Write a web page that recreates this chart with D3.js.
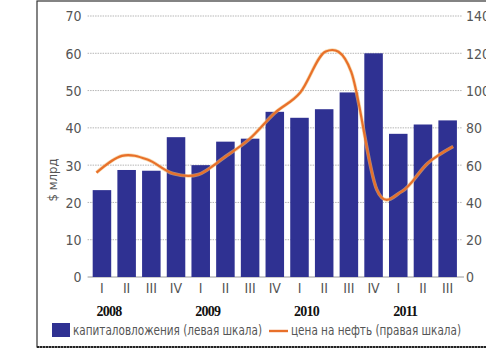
<!DOCTYPE html>
<html><head><meta charset="utf-8">
<script src="https://cdn.jsdelivr.net/npm/d3@7"></script>
<style>
html,body{margin:0;padding:0;background:#fff;overflow:hidden}
svg{display:block}
.tk{font-family:"Liberation Sans Narrow","DejaVu Sans Condensed","Liberation Sans",sans-serif;fill:#555}
</style></head><body>
<svg id="c" width="486" height="359"></svg>
<script>
const quarters = ["I","II","III","IV","I","II","III","IV","I","II","III","IV","I","II","III"];
const years = ["2008","2009","2010","2011"];
const yearStart = [0,4,8,12];
const capex = [23.3,28.7,28.5,37.5,30,36.3,37.1,44.3,42.7,45,49.5,60,38.4,40.9,42];
const oil = [56,65,63,55.5,55,64,74,88,99,121,110,47,46,61,70];
const leftTicks = [0,10,20,30,40,50,60,70];
const rightTicks = [0,20,40,60,80,100,120,140];
const legendLabels = ["капиталовложения (левая шкала)","цена на нефть (правая шкала)"];
const yTitle = "$ млрд";

const svg = d3.select("#c");
const W=486,H=359;
const x0=89.6,x1=460, yTop=16, yBot=277;
const idx = d3.range(quarters.length);
const x = d3.scaleBand().domain(idx).range([x0,x1]).paddingInner(0.25).paddingOuter(0.125);
const xl = d3.scalePoint().domain(idx).range([x0,x1]).padding(0.27);
const yL = d3.scaleLinear().domain([0,70]).range([yBot,yTop]);
const yR = d3.scaleLinear().domain([0,140]).range([yBot,yTop]);

// frame
svg.append("rect").attr("x",37).attr("y",1).attr("width",W).attr("height",346)
  .attr("fill","none").attr("stroke","#333").attr("stroke-width",1.2);
svg.append("line").attr("x1",37).attr("x2",W).attr("y1",347).attr("y2",347)
  .attr("stroke","#222").attr("stroke-width",2).attr("stroke-dasharray","2,1");

// gridlines
svg.append("g").selectAll("line").data(leftTicks.slice(1)).join("line")
  .attr("x1",x0-2).attr("x2",x1+2).attr("y1",d=>yL(d)).attr("y2",d=>yL(d))
  .attr("stroke","#b5b5b5").attr("stroke-width",1).attr("stroke-dasharray","1.5,1");
svg.append("line").attr("x1",x0-2).attr("x2",x1+4).attr("y1",yBot).attr("y2",yBot)
  .attr("stroke","#9a9a9a").attr("stroke-width",1);

// left axis
const gl = svg.append("g").attr("transform",`translate(${x0-8},0)`)
  .call(d3.axisLeft(yL).tickValues(leftTicks).tickSize(0).tickPadding(0));
gl.select(".domain").remove();
gl.selectAll("text").attr("class","tk").attr("font-size",14).attr("dy","0.35em");
// right axis
const gr = svg.append("g").attr("transform",`translate(${x1+6},0)`)
  .call(d3.axisRight(yR).tickValues(rightTicks).tickSize(0).tickPadding(0));
gr.select(".domain").remove();
gr.selectAll("text").attr("class","tk").attr("font-size",14).attr("dy","0.35em");

// bars
svg.append("g").selectAll("rect").data(capex).join("rect")
  .attr("x",(d,i)=>x(i)).attr("width",x.bandwidth())
  .attr("y",d=>yL(d)).attr("height",d=>yBot-yL(d))
  .attr("fill","#2f3192");

// line
const line = d3.line().x((d,i)=>xl(i)).y(d=>yR(d)).curve(d3.curveCatmullRom.alpha(0));
svg.append("path").datum(oil).attr("d",line).attr("fill","none")
  .attr("stroke","#f4c27a").attr("stroke-width",3.6).attr("opacity",0.6);
svg.append("path").datum(oil).attr("d",line).attr("fill","none")
  .attr("stroke","#e8702a").attr("stroke-width",2.2);

// x axis labels
svg.append("g").selectAll("text").data(quarters).join("text").attr("class","tk")
  .attr("x",(d,i)=>x(i)+x.bandwidth()/2).attr("y",293).attr("text-anchor","middle")
  .attr("font-size",14).text(d=>d);
svg.append("g").selectAll("text").data(years).join("text")
  .attr("x",(d,i)=>x(yearStart[i])+x.bandwidth()/2+7).attr("y",316).attr("text-anchor","middle")
  .attr("font-family","'Liberation Serif','Times New Roman',serif").attr("font-size",14)
  .attr("font-weight","bold").attr("letter-spacing",-0.8).attr("fill","#111").text(d=>d);

// y title
svg.append("text").attr("class","tk").attr("transform","translate(57,180) rotate(-90)")
  .attr("text-anchor","middle").attr("font-size",13).attr("fill","#444").text(yTitle);

// legend
const lg = svg.append("g");
lg.append("rect").attr("x",52).attr("y",323).attr("width",18).attr("height",14).attr("fill","#2f3192");
lg.append("text").attr("class","tk").attr("x",73).attr("y",335).attr("font-size",14)
  .attr("textLength",189).attr("lengthAdjust","spacingAndGlyphs").text(legendLabels[0]);
lg.append("line").attr("x1",269).attr("x2",288).attr("y1",331).attr("y2",331)
  .attr("stroke","#e8702a").attr("stroke-width",2.4);
lg.append("text").attr("class","tk").attr("x",291).attr("y",335).attr("font-size",14)
  .attr("textLength",170).attr("lengthAdjust","spacingAndGlyphs").text(legendLabels[1]);
</script>
</body></html>
